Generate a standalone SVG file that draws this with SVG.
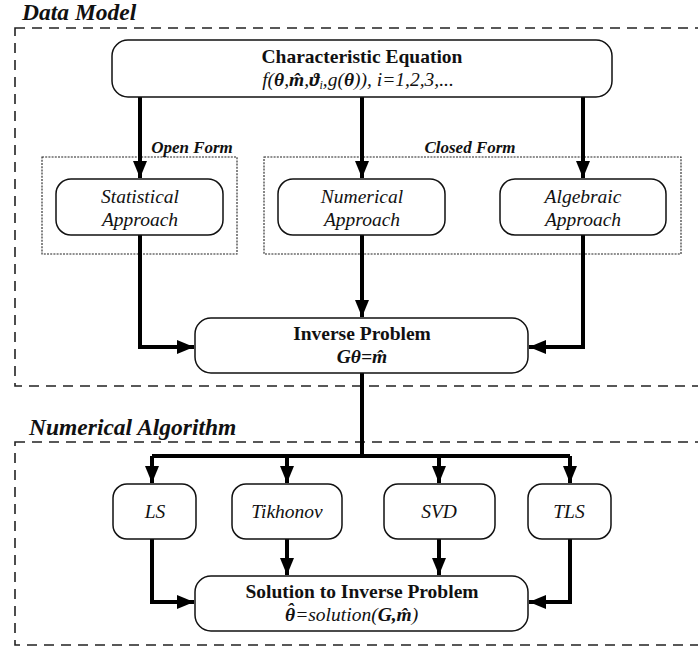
<svg xmlns="http://www.w3.org/2000/svg" width="698" height="649" viewBox="0 0 698 649" font-family="'Liberation Serif', 'DejaVu Serif', serif">
<style>
text{font-family:'Liberation Serif','DejaVu Serif',serif}
.grp{fill:none;stroke:#222;stroke-width:1.6;stroke-dasharray:10,7}
.dot{fill:none;stroke:#222;stroke-width:1.1;stroke-dasharray:2,1.2}
.node{fill:#fff;stroke:#111;stroke-width:1.5}
.t{fill:#111;text-anchor:middle;font-size:19.5px}
.s{fill:#111;font-size:19.5px}
.b{font-weight:bold}
.i{font-style:italic}
.h{font-weight:bold;font-style:italic;font-size:23.5px;fill:#111}
.f{fill:#111;text-anchor:middle;font-size:17px;font-weight:bold;font-style:italic}
.c{fill:none;stroke:#000;stroke-width:4}
</style>
<defs>
<marker id="ah" markerWidth="17" markerHeight="14" viewBox="0 0 17 14" refX="17" refY="7" orient="auto" markerUnits="userSpaceOnUse">
<path d="M0,0 L17,7 L0,14 z" fill="#000"/>
</marker>
</defs>
<g id="group-data-model">
<rect class="grp" x="15" y="28" width="700" height="358"/>
<text class="h" x="22" y="20">Data Model</text>
</g>
<g id="group-numerical-algorithm">
<rect class="grp" x="15" y="442" width="700" height="203"/>
<text class="h" x="29" y="435">Numerical Algorithm</text>
</g>
<g id="group-open-form">
<rect class="dot" x="42" y="157" width="195" height="97"/>
<text class="f" x="192" y="153">Open Form</text>
</g>
<g id="group-closed-form">
<rect class="dot" x="264" y="157" width="417" height="97"/>
<text class="f" x="470" y="153">Closed Form</text>
</g>
<g id="connectors">
<path class="c" d="M140,97 V178" marker-end="url(#ah)"/>
<path class="c" d="M362,97 V178" marker-end="url(#ah)"/>
<path class="c" d="M583,97 V178" marker-end="url(#ah)"/>
<path class="c" d="M140,235 V347 H194" marker-end="url(#ah)"/>
<path class="c" d="M362,235 V317" marker-end="url(#ah)"/>
<path class="c" d="M583,235 V347 H529" marker-end="url(#ah)"/>
<path class="c" d="M362,373 V456"/>
<path class="c" d="M152,456 H570"/>
<path class="c" d="M152,456 V483" marker-end="url(#ah)"/>
<path class="c" d="M287,456 V483" marker-end="url(#ah)"/>
<path class="c" d="M439,456 V483" marker-end="url(#ah)"/>
<path class="c" d="M570,456 V483" marker-end="url(#ah)"/>
<path class="c" d="M152,539 V602 H194" marker-end="url(#ah)"/>
<path class="c" d="M287,539 V575" marker-end="url(#ah)"/>
<path class="c" d="M439,539 V575" marker-end="url(#ah)"/>
<path class="c" d="M570,539 V602 H529" marker-end="url(#ah)"/>
</g>
<g id="node-characteristic-equation">
<rect class="node" x="112" y="40" width="500" height="57" rx="16"/>
<text class="t b" x="362" y="63">Characteristic Equation</text>
<text class="t i" x="358" y="86"><tspan>f(</tspan><tspan class="b">θ</tspan><tspan>,</tspan><tspan class="b">m̂</tspan><tspan>,</tspan><tspan class="b">ϑ</tspan><tspan font-size="12" dy="3">i</tspan><tspan dy="-3">,g(</tspan><tspan class="b">θ</tspan><tspan>)), i=1,2,3,...</tspan></text>
</g>
<g id="node-statistical">
<rect class="node" x="56" y="179" width="167" height="56" rx="15"/>
<text class="t i" x="140" y="203">Statistical</text>
<text class="t i" x="140" y="226">Approach</text>
</g>
<g id="node-numerical">
<rect class="node" x="278" y="179" width="167" height="56" rx="15"/>
<text class="t i" x="362" y="203">Numerical</text>
<text class="t i" x="362" y="226">Approach</text>
</g>
<g id="node-algebraic">
<rect class="node" x="500" y="179" width="166" height="56" rx="15"/>
<text class="t i" x="583" y="203">Algebraic</text>
<text class="t i" x="583" y="226">Approach</text>
</g>
<g id="node-inverse-problem">
<rect class="node" x="195" y="318" width="333" height="55" rx="16"/>
<text class="t b" x="362" y="340">Inverse Problem</text>
<text class="t b i" x="362" y="363">Gθ=m̂</text>
</g>
<g id="node-ls">
<rect class="node" x="113" y="484" width="83" height="55" rx="14"/>
<text class="t i" x="155" y="518">LS</text>
</g>
<g id="node-tikhonov">
<rect class="node" x="232" y="484" width="110" height="55" rx="14"/>
<text class="t i" x="287" y="518">Tikhonov</text>
</g>
<g id="node-svd">
<rect class="node" x="384" y="484" width="111" height="55" rx="14"/>
<text class="t i" x="439" y="518">SVD</text>
</g>
<g id="node-tls">
<rect class="node" x="528" y="484" width="83" height="55" rx="14"/>
<text class="t i" x="569" y="518">TLS</text>
</g>
<g id="node-solution">
<rect class="node" x="195" y="576" width="333" height="55" rx="16"/>
<text class="t b" x="362" y="598">Solution to Inverse Problem</text>
<text class="s i" x="285" y="621"><tspan class="b">θ</tspan><tspan class="b" dx="-8.1" dy="-5">ˆ</tspan><tspan dx="1.6" dy="5">=solution(</tspan><tspan class="b">G</tspan><tspan class="b">,m̂</tspan><tspan>)</tspan></text>
</g>
</svg>
